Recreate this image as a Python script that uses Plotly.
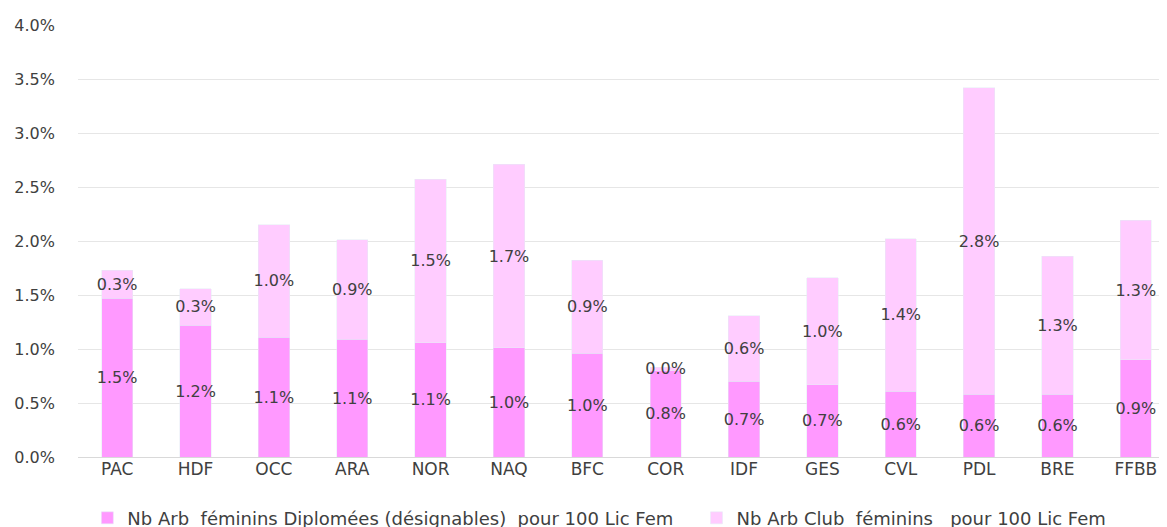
import plotly.graph_objects as go

categories = ["PAC", "HDF", "OCC", "ARA", "NOR", "NAQ", "BFC", "COR", "IDF", "GES", "CVL", "PDL", "BRE", "FFBB"]
diplomees = [0.0147, 0.0122, 0.0111, 0.0109, 0.0106, 0.0101, 0.0096, 0.0080, 0.0070, 0.0067, 0.0061, 0.0058, 0.0058, 0.0090]
club = [0.0026, 0.0034, 0.0104, 0.0092, 0.0151, 0.0170, 0.0086, 0.0003, 0.0061, 0.0099, 0.0141, 0.0284, 0.0128, 0.0129]
y_ticks = [0, 0.005, 0.01, 0.015, 0.02, 0.025, 0.03, 0.035, 0.04]

name1 = "Nb Arb  féminins Diplomées (désignables)  pour 100 Lic Fem"
name2 = "Nb Arb Club  féminins   pour 100 Lic Fem"

FONT = "DejaVu Sans"
fig = go.Figure()
fig.add_bar(x=categories, y=diplomees, name=name1, marker_color="#FF99FF", legend="legend",
            texttemplate="%{y:.1%}", textposition="inside", insidetextanchor="middle",
            constraintext="none", textangle=0, textfont=dict(family=FONT, size=16, color="#404040"))
fig.add_bar(x=categories, y=club, name=name2, marker_color="#FFCCFF", legend="legend2",
            texttemplate="%{y:.1%}", textposition="inside", insidetextanchor="middle",
            constraintext="none", textangle=0, textfont=dict(family=FONT, size=16, color="#404040"))

legfont = dict(family=FONT, size=18, color="#404040")
fig.update_layout(
    barmode="stack", bargap=0.6,
    width=1167, height=527,
    margin=dict(l=70, r=0, t=17, b=78, autoexpand=False),
    plot_bgcolor="white", paper_bgcolor="white",
    font=dict(family=FONT, size=16, color="#404040"),
    showlegend=True,
    legend=dict(orientation="h", xref="container", x=0.068, xanchor="left",
                yref="container", y=0.032, yanchor="middle",
                font=legfont, itemwidth=30),
    legend2=dict(orientation="h", xref="container", x=0.590, xanchor="left",
                 yref="container", y=0.032, yanchor="middle",
                 font=legfont, itemwidth=30),
)
fig.update_yaxes(range=[0, 0.04], tickvals=y_ticks, tickformat=".1%",
                 showgrid=True, gridcolor="#E6E6E6", gridwidth=1,
                 zeroline=True, zerolinecolor="#D9D9D9", zerolinewidth=1,
                 ticklabelstandoff=22, ticks="")
fig.update_xaxes(showgrid=False, ticks="", showline=False, tickfont=dict(size=17))

fig.write_html("out.html")
